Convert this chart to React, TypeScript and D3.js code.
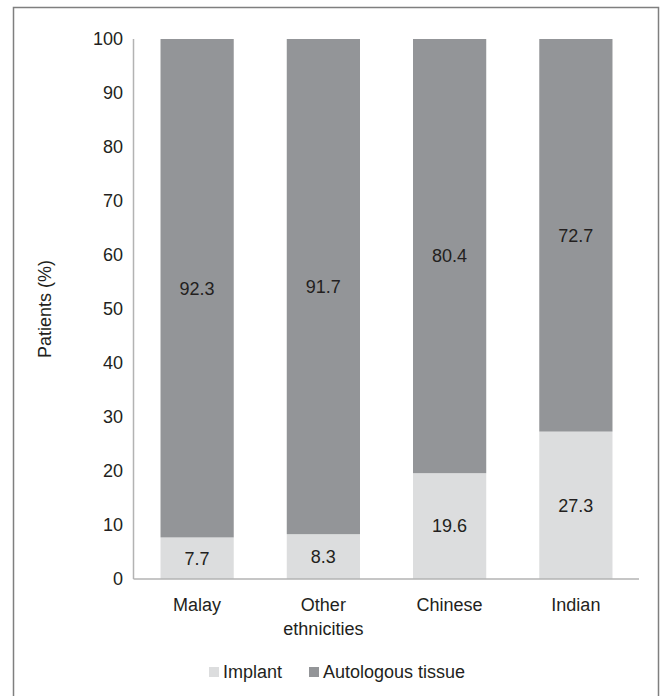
import React from "react";
import * as d3 from "d3";

const categories: string[][] = [["Malay"], ["Other", "ethnicities"], ["Chinese"], ["Indian"]];
const implant: number[] = [7.7, 8.3, 19.6, 27.3];
const autologous: number[] = [92.3, 91.7, 80.4, 72.7];
const yTicks: number[] = [0, 10, 20, 30, 40, 50, 60, 70, 80, 90, 100];
const seriesNames: string[] = ["Implant", "Autologous tissue"];

const W = 662;
const H = 696;
const FONT = "'Liberation Sans', Arial, Helvetica, sans-serif";
const TEXT = "#231f20";
const LIGHT = "#dcddde";
const DARK = "#939598";

export default function App() {
  const x = d3
    .scaleBand<number>()
    .domain(d3.range(categories.length))
    .range([134, 639])
    .paddingInner(0.42)
    .paddingOuter(0.21);
  const y = d3.scaleLinear().domain([0, 100]).range([579, 39]);
  const fs = 18;

  return (
    <svg
      width={W}
      height={H}
      style={{ position: "absolute", left: 0, top: 0, display: "block" }}
      fontFamily={FONT}
    >
      <rect x={0} y={0} width={W} height={H} fill="#fff" />
      <path d="M13.5,700 V7.5 H658.5 V700" fill="none" stroke="#7f7f7f" strokeWidth={1.5} />

      {categories.map((_, i) => {
        const bx = x(i)!;
        const bw = x.bandwidth();
        const i0 = y(0);
        const i1 = y(implant[i]);
        const a1 = y(implant[i] + autologous[i]);
        return (
          <g key={i}>
            <rect x={bx} y={i1} width={bw} height={i0 - i1} fill={LIGHT} />
            <rect x={bx} y={a1} width={bw} height={i1 - a1} fill={DARK} />
            <text
              x={bx + bw / 2}
              y={(i0 + i1) / 2 + fs * 0.35}
              textAnchor="middle"
              fontSize={fs}
              fill={TEXT}
            >
              {implant[i].toFixed(1)}
            </text>
            <text
              x={bx + bw / 2}
              y={(i1 + a1) / 2 + fs * 0.35}
              textAnchor="middle"
              fontSize={fs}
              fill={TEXT}
            >
              {autologous[i].toFixed(1)}
            </text>
            {categories[i].map((line, j) => (
              <text
                key={j}
                x={bx + bw / 2}
                y={605 + j * 24 + fs * 0.35}
                textAnchor="middle"
                fontSize={fs}
                fill={TEXT}
              >
                {line}
              </text>
            ))}
          </g>
        );
      })}

      <line x1={133.5} x2={133.5} y1={y(100)} y2={y(0)} stroke="#b3b3b3" strokeWidth={1.5} />
      <line x1={133.5} x2={639} y1={y(0)} y2={y(0)} stroke="#b3b3b3" strokeWidth={1.5} />

      {yTicks.map((t) => (
        <text key={t} x={123} y={y(t) + fs * 0.35} textAnchor="end" fontSize={fs} fill={TEXT}>
          {t}
        </text>
      ))}

      <text
        transform={`translate(${45 + fs * 0.35},${(y(0) + y(100)) / 2}) rotate(-90)`}
        textAnchor="middle"
        fontSize={fs}
        fill={TEXT}
      >
        Patients (%)
      </text>

      <g>
        <rect x={209} y={667} width={10} height={10} fill={LIGHT} />
        <text x={223} y={672 + fs * 0.35} fontSize={fs} fill={TEXT}>
          {seriesNames[0]}
        </text>
        <rect x={309} y={667} width={10} height={10} fill={DARK} />
        <text x={323} y={672 + fs * 0.35} fontSize={fs} fill={TEXT}>
          {seriesNames[1]}
        </text>
      </g>
    </svg>
  );
}
